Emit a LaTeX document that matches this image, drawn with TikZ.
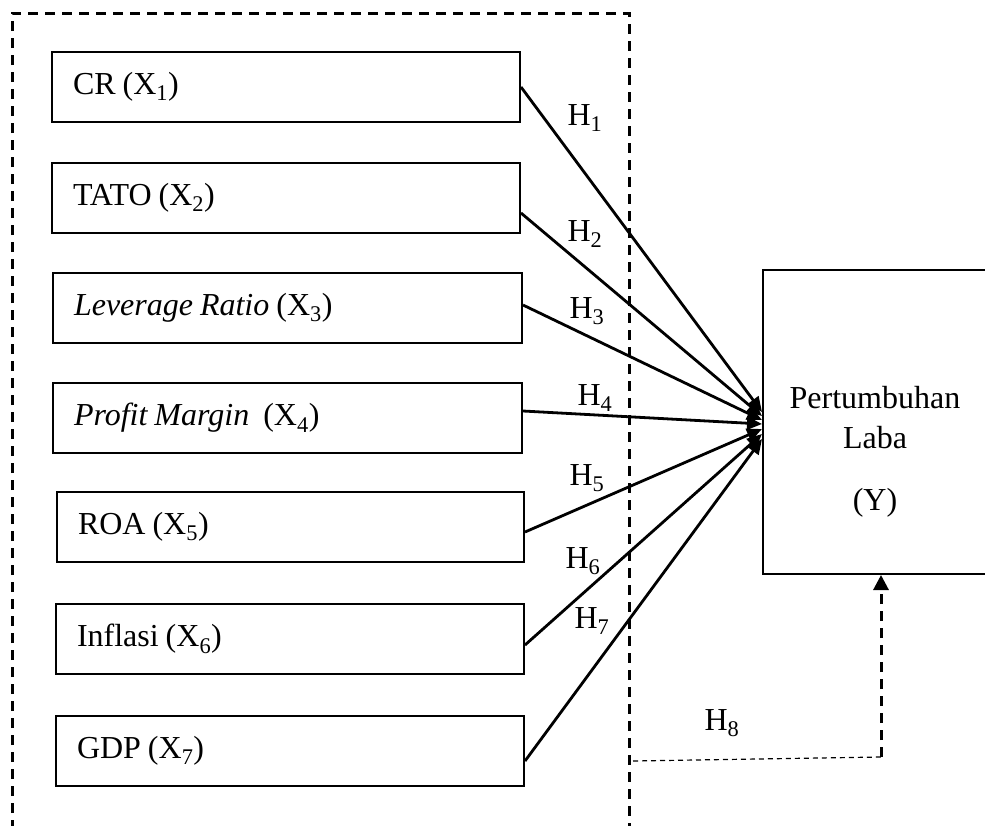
\documentclass[tikz,border=0pt]{standalone}
\usepackage{fontspec}
\setmainfont{Liberation Serif}
\usetikzlibrary{arrows.meta}
\newcommand{\subi}[1]{\textsubscript{#1}}
\newcommand{\tightspace}{\spaceskip=7pt plus 2pt minus 1pt\relax}
\begin{document}
\begin{tikzpicture}[x=1pt,y=-1pt,
  every node/.style={font=\fontsize{32}{40}\selectfont,
    execute at begin node=\tightspace},
  varbox/.style={draw,line width=2pt,minimum height=70pt,inner ysep=0pt,
    inner xsep=21pt,align=left,anchor=north west},
  link/.style={line width=2.8pt,-{Triangle[length=15pt,width=13pt]}},
  frame/.style={line width=3pt,dash pattern=on 10pt off 7pt},
  hlabel/.style={inner sep=0pt}]
\useasboundingbox (0,0) rectangle (985,825);
\clip (0,0) rectangle (985,825);

% dashed frame around the independent variables
\draw[frame] (12,830) -- (12,13) -- (629,13) -- (629,830);

% independent variables
\node[varbox,text width=426pt] (x1) at (51,51) {CR (X\subi{1})};
\node[varbox,text width=426pt] (x2) at (51,162) {TATO (X\subi{2})};
\node[varbox,text width=427pt] (x3) at (52,272) {\textit{Leverage Ratio} (X\subi{3})};
\node[varbox,text width=427pt] (x4) at (52,382) {\textit{Profit Margin}~ (X\subi{4})};
\node[varbox,text width=425pt] (x5) at (56,491) {ROA (X\subi{5})};
\node[varbox,text width=426pt] (x6) at (55,603) {Inflasi (X\subi{6})};
\node[varbox,text width=426pt] (x7) at (55,715) {GDP (X\subi{7})};

% dependent variable
\node[draw,line width=2pt,minimum width=260pt,minimum height=304pt,
      anchor=north west] (y) at (762,269) {};
\node (yt1) at (875,398) {Pertumbuhan};
\node (yt2) at (875,438) {Laba};
\node (yt3) at (875,503) {(Y)};

% end points of the hypothesis arrows on the left side of Y
\coordinate (e1) at (762,412);
\coordinate (e2) at (762,416);
\coordinate (e3) at (762,420);
\coordinate (e4) at (762,424);
\coordinate (e5) at (762,429);
\coordinate (e6) at (762,434);
\coordinate (e7) at (762,439);

\draw[link] (x1.east |- 0,87) -- (e1);
\draw[link] (x2.east |- 0,213) -- (e2);
\draw[link] (x3.east |- 0,305) -- (e3);
\draw[link] (x4.east |- 0,411) -- (e4);
\draw[link] (x5.east |- 0,532) -- (e5);
\draw[link] (x6.east |- 0,645) -- (e6);
\draw[link] (x7.east |- 0,761) -- (e7);

% hypothesis labels
\node[hlabel] (h1) at (585,118) {H\subi{1}};
\node[hlabel] (h2) at (585,234) {H\subi{2}};
\node[hlabel] (h3) at (587,311) {H\subi{3}};
\node[hlabel] (h4) at (595,398) {H\subi{4}};
\node[hlabel] (h5) at (587,478) {H\subi{5}};
\node[hlabel] (h6) at (583,561) {H\subi{6}};
\node[hlabel] (h7) at (592,621) {H\subi{7}};
\node[hlabel] (h8) at (722,723) {H\subi{8}};

% simultaneous effect of the whole group on Y
\coordinate (g0) at (633,761);
\coordinate (g1) at (881,757);
\draw[line width=1.2pt,dash pattern=on 5pt off 4pt] (g0) -- (g1);
\draw[line width=3pt,dash pattern=on 10pt off 7pt,
      -{Triangle[length=15pt,width=15pt]}] (g1) -- (y.south west -| g1);
\end{tikzpicture}
\end{document}
